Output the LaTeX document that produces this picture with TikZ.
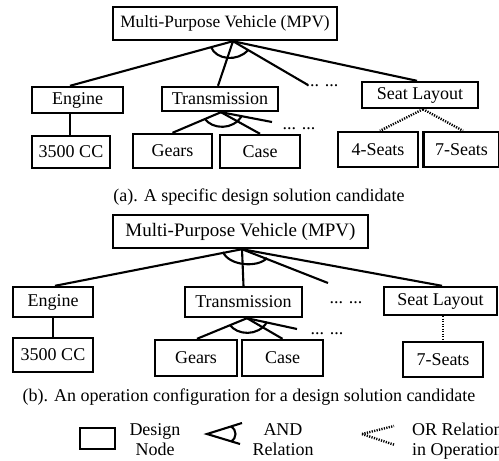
\documentclass[tikz,border=0pt]{standalone}
\usepackage{fontspec}
\setmainfont{Liberation Serif}
\begin{document}
\begin{tikzpicture}[x=1pt,y=-1pt,
  box/.style={draw,line width=2.4pt,inner sep=0pt,font=\fontsize{18}{20}\selectfont},
  conn/.style={line width=2.1pt},
  orline/.style={line width=2.4pt,dash pattern=on 1.2pt off 1.3pt},
  txt/.style={inner sep=0pt,font=\fontsize{18}{20}\selectfont},
  dots/.style={inner sep=0pt,anchor=base,font=\fontsize{18}{20}\selectfont}]
\useasboundingbox (0,0) rectangle (499,461);
% ---------- (a) ----------
\node[box,minimum width=224pt,minimum height=33pt,font=\fontsize{17.3}{20}\selectfont] (mpvA) at (225,23.5) {Multi-Purpose Vehicle (MPV)};
\node[box,minimum width=91pt,minimum height=26pt] (engA) at (77.5,100) {Engine};
\node[box,minimum width=116pt,minimum height=24pt] (trA) at (220,99) {Transmission};
\node[box,minimum width=116pt,minimum height=26pt] (slA) at (420,95) {Seat Layout};
\node[box,minimum width=78pt,minimum height=32pt] (cA) at (71,152) {3500 CC};
\node[box,minimum width=79pt,minimum height=34pt] (gearsA) at (172.5,151) {Gears};
\node[box,minimum width=80pt,minimum height=33pt] (caseA) at (260,151.5) {Case};
\node[box,minimum width=80pt,minimum height=35pt] (sfourA) at (378,149.5) {4-Seats};
\node[box,minimum width=76pt,minimum height=35pt] (ssevenA) at (461.5,149.5) {7-Seats};
\node[dots] (dA1) at (322,86) {... ...};
\node[dots] (dA2) at (299,129) {... ...};
\coordinate (apA) at ([xshift=8pt]mpvA.south);
\coordinate (fA1) at (308,85);
\coordinate (apTA) at ([xshift=1pt]trA.south);
\coordinate (fA2) at (272,122);
\coordinate (apSA) at ([xshift=3pt]slA.south);
\draw[conn] (apA) -- ([xshift=-7.5pt]engA.north);
\draw[conn] (apA) -- ([xshift=-2pt]trA.north);
\draw[conn] (apA) -- (fA1);
\draw[conn] (apA) -- ([xshift=-3pt]slA.north);
\draw[conn] (211,47) .. controls (216,60) and (238,62) .. (248,50);
\draw[conn] ([xshift=-7.5pt]engA.south) -- ([xshift=-1pt]cA.north);
\draw[conn] (apTA) -- (gearsA.north);
\draw[conn] (apTA) -- (caseA.north);
\draw[conn] (apTA) -- (fA2);
\draw[conn] (205,119) .. controls (212,129) and (233,131) .. (242,115.5);
\draw[orline] (apSA) -- ([xshift=2pt]sfourA.north);
\draw[orline] (apSA) -- ([xshift=1.5pt]ssevenA.north);
\node[txt] (capA) at (259,197) {(a). A specific design solution candidate};
% ---------- (b) ----------
\node[box,minimum width=255pt,minimum height=33pt,font=\fontsize{19}{20}\selectfont] (mpvB) at (240.5,231.5) {Multi-Purpose Vehicle (MPV)};
\node[box,minimum width=80pt,minimum height=30pt] (engB) at (53,302) {Engine};
\node[box,minimum width=117pt,minimum height=30pt] (trB) at (243.5,302) {Transmission};
\node[box,minimum width=113pt,minimum height=28pt] (slB) at (440.5,301) {Seat Layout};
\node[box,minimum width=80pt,minimum height=34pt] (cB) at (53,355) {3500 CC};
\node[box,minimum width=82pt,minimum height=36pt] (gearsB) at (196,358) {Gears};
\node[box,minimum width=81pt,minimum height=36pt] (caseB) at (282.5,358) {Case};
\node[box,minimum width=80pt,minimum height=35pt] (ssevenB) at (443,359.5) {7-Seats};
\node[dots] (dB1) at (346,303) {... ...};
\node[dots] (dB2) at (327,334) {... ...};
\coordinate (apB) at ([xshift=1.5pt]mpvB.south);
\coordinate (fB1) at (328,283);
\coordinate (apTB) at ([xshift=3.5pt]trB.south);
\coordinate (fB2) at (297,329);
\draw[conn] (apB) -- ([xshift=2pt]engB.north);
\draw[conn] (apB) -- (trB.north);
\draw[conn] (apB) -- (fB1);
\draw[conn] (apB) -- ([xshift=1.5pt]slB.north);
\draw[conn] (223,252) .. controls (229,266) and (258,268) .. (267,258);
\draw[conn] (engB.south) -- (cB.north);
\draw[conn] (apTB) -- ([xshift=1pt]gearsB.north);
\draw[conn] (apTB) -- (caseB.north);
\draw[conn] (apTB) -- (fB2);
\draw[conn] (230,325) .. controls (237,335) and (258,337) .. (267,322);
\draw[orline] ([xshift=2.5pt]slB.south) -- (ssevenB.north);
\node[txt] (capB) at (249,397) {(b). An operation configuration for a design solution candidate};
% ---------- legend ----------
\node[draw,line width=2.4pt,minimum width=35pt,minimum height=21pt,inner sep=0pt] (legbox) at (97.5,438.5) {};
\node[txt,align=center] (legbt) at (155,440) {Design\\Node};
\coordinate (andap) at (207,434);
\coordinate (andu) at (242,423);
\coordinate (andl) at (240,444);
\draw[conn] (andu) -- (andap) -- (andl);
\draw[conn] (231,426.5) .. controls (237,430) and (237,438) .. (231,441.5);
\node[txt,align=center] (legat) at (283,440) {AND\\Relation};
\coordinate (orap) at (362,434);
\coordinate (oru) at (394,426);
\coordinate (orl) at (395,445);
\draw[orline] (orap) -- (oru);
\draw[orline] (orap) -- (orl);
\node[txt,align=left,anchor=west] (legot) at (412,441) {OR Relation\\in Operation};
\end{tikzpicture}
\end{document}
